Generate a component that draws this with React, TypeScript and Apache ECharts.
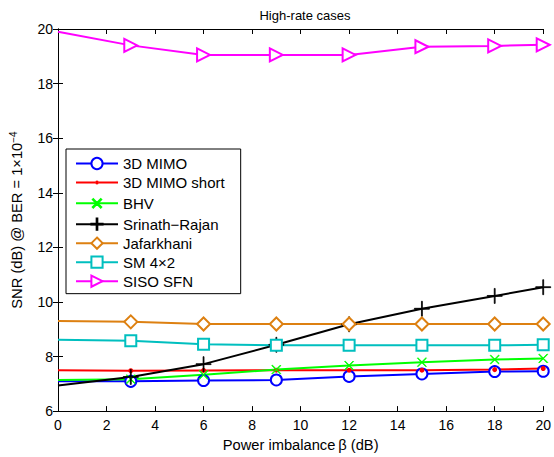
import React, { useEffect, useRef } from "react";
import * as echarts from "echarts";

const xValues = [0, 3, 6, 9, 12, 15, 18, 20];
const xTicks = [0, 2, 4, 6, 8, 10, 12, 14, 16, 18, 20];
const yTicks = [6, 8, 10, 12, 14, 16, 18, 20];

const mimo3d = [7.09, 7.09, 7.12, 7.14, 7.27, 7.36, 7.45, 7.46];
const mimo3dShort = [7.5, 7.48, 7.49, 7.5, 7.5, 7.5, 7.52, 7.56];
const bhv = [7.14, 7.17, 7.33, 7.52, 7.67, 7.79, 7.89, 7.93];
const srinathRajan = [6.94, 7.25, 7.72, 8.43, 9.18, 9.75, 10.22, 10.54];
const jafarkhani = [9.3, 9.27, 9.19, 9.19, 9.19, 9.19, 9.19, 9.19];
const sm4x2 = [8.61, 8.58, 8.45, 8.41, 8.41, 8.41, 8.41, 8.43];
const sisoSfn = [19.9, 19.4, 19.05, 19.05, 19.05, 19.35, 19.38, 19.42];

const legendNames = ["3D MIMO", "3D MIMO short", "BHV", "Srinath\u2212Rajan", "Jafarkhani", "SM 4\u00d72", "SISO SFN"];

const FONT = "'Liberation Sans', Arial, Helvetica, sans-serif";

const plusPath =
  "path://M-0.6,-10 L0.6,-10 L0.6,-0.6 L10,-0.6 L10,0.6 L0.6,0.6 L0.6,10 L-0.6,10 L-0.6,0.6 L-10,0.6 L-10,-0.6 L-0.6,-0.6 Z";

const dotLineIcon =
  "path://M0,0 M42,14 M0,6 L19,6 L19,8 L0,8 Z M23,6 L42,6 L42,8 L23,8 Z M19,7 A2,2 0 1 0 23,7 A2,2 0 1 0 19,7 Z";

export default function App() {
  const ref = useRef<HTMLDivElement>(null);
  useEffect(() => {
    if (!ref.current) return;
    const chart = echarts.init(ref.current, undefined, { renderer: "svg" });

    const mk = (
      name: string,
      vals: number[],
      color: string,
      symbol: string,
      symbolSize: number,
      extra: any = {}
    ) => ({
      name,
      type: "line",
      xAxisIndex: 0,
      yAxisIndex: 0,
      data: vals.map((v, i) =>
        i === 0 ? { value: [xValues[i], v], symbol: "none" } : [xValues[i], v]
      ),
      symbol,
      symbolSize,
      showAllSymbol: true,
      lineStyle: { color, width: 2 },
      itemStyle: { color, borderColor: color, borderWidth: 1.6 },
      emphasis: { disabled: true },
      z: 3,
      ...extra,
    });

    const option: any = {
      animation: false,
      textStyle: { fontFamily: FONT },
      title: {
        text: "High-rate cases",
        left: 300,
        textAlign: "center",
        top: 4,
        textStyle: { fontSize: 13, fontWeight: "normal", color: "#000", fontFamily: FONT },
      },
      grid: { left: 56, right: 9, top: 29, bottom: 44, containLabel: false },
      legend: {
        orient: "vertical",
        left: 66,
        top: 149,
        padding: [7, 16, 5, 9],
        itemWidth: 42,
        itemHeight: 14,
        itemGap: 4,
        borderColor: "#000",
        borderWidth: 1,
        backgroundColor: "#fff",
        textStyle: { fontSize: 15, color: "#000", fontFamily: FONT },
        data: legendNames.map((n) =>
          n === "3D MIMO short" ? { name: n, icon: dotLineIcon } : { name: n }
        ),
      },
      xAxis: [
        {
          type: "value",
          min: 0,
          max: 20,
          interval: 2,
          name: "Power imbalance\u2009\u03b2 (dB)",
          nameLocation: "middle",
          nameGap: 24,
          nameTextStyle: { fontSize: 14.7, color: "#000", fontFamily: FONT },
          axisLine: { show: true, lineStyle: { color: "#000", width: 1 } },
          axisTick: { show: true, inside: true, length: 5, lineStyle: { color: "#000" } },
          axisLabel: { fontSize: 14, color: "#000", margin: 7, fontFamily: FONT },
          splitLine: { show: false },
        },
        {
          type: "value",
          position: "top",
          min: 0,
          max: 20,
          interval: 2,
          axisLine: { show: true, lineStyle: { color: "#000", width: 1 } },
          axisTick: { show: true, inside: true, length: 5, lineStyle: { color: "#000" } },
          axisLabel: { show: false },
          splitLine: { show: false },
        },
      ],
      yAxis: [
        {
          type: "value",
          min: 6,
          max: 20,
          interval: 2,
          name: "SNR (dB) @ BER = 1\u00d710{sup|\u22124}",
          nameLocation: "middle",
          nameGap: 32,
          nameRotate: 90,
          nameTextStyle: {
            fontSize: 14.7,
            color: "#000",
            fontFamily: FONT,
            rich: { sup: { fontSize: 10, verticalAlign: "top", padding: [0, 0, 8, 0], color: "#000", fontFamily: FONT } },
          },
          axisLine: { show: true, lineStyle: { color: "#000", width: 1 } },
          axisTick: { show: true, inside: true, length: 5, lineStyle: { color: "#000" } },
          axisLabel: { fontSize: 14, color: "#000", margin: 5, fontFamily: FONT },
          splitLine: { show: false },
        },
        {
          type: "value",
          position: "right",
          min: 6,
          max: 20,
          interval: 2,
          axisLine: { show: true, lineStyle: { color: "#000", width: 1 } },
          axisTick: { show: true, inside: true, length: 5, lineStyle: { color: "#000" } },
          axisLabel: { show: false },
          splitLine: { show: false },
        },
      ],
      series: [
        mk("3D MIMO", mimo3d, "#0000ff", "emptyCircle", 11),
        mk("3D MIMO short", mimo3dShort, "#ff0000", "circle", 5, { itemStyle: { color: "#ff0000", borderWidth: 0 } }),
        mk("BHV", bhv, "#00ff00", plusPath, 12, { symbolRotate: 45, itemStyle: { color: "#00ff00", borderColor: "#00ff00", borderWidth: 0.8 } }),
        mk("Srinath\u2212Rajan", srinathRajan, "#000000", plusPath, 15, { itemStyle: { color: "#000", borderColor: "#000", borderWidth: 0.8 } }),
        mk("Jafarkhani", jafarkhani, "#dd8011", "emptyDiamond", 13),
        mk("SM 4\u00d72", sm4x2, "#00bfbf", "emptyRect", 11),
        mk("SISO SFN", sisoSfn, "#ff00ff", "emptyTriangle", 13, { symbolRotate: -90 }),
      ],
    };
    chart.setOption(option);
    return () => chart.dispose();
  }, []);
  return <div ref={ref} style={{ width: 554, height: 457, position: "absolute", left: 0, top: 0 }} />;
}
